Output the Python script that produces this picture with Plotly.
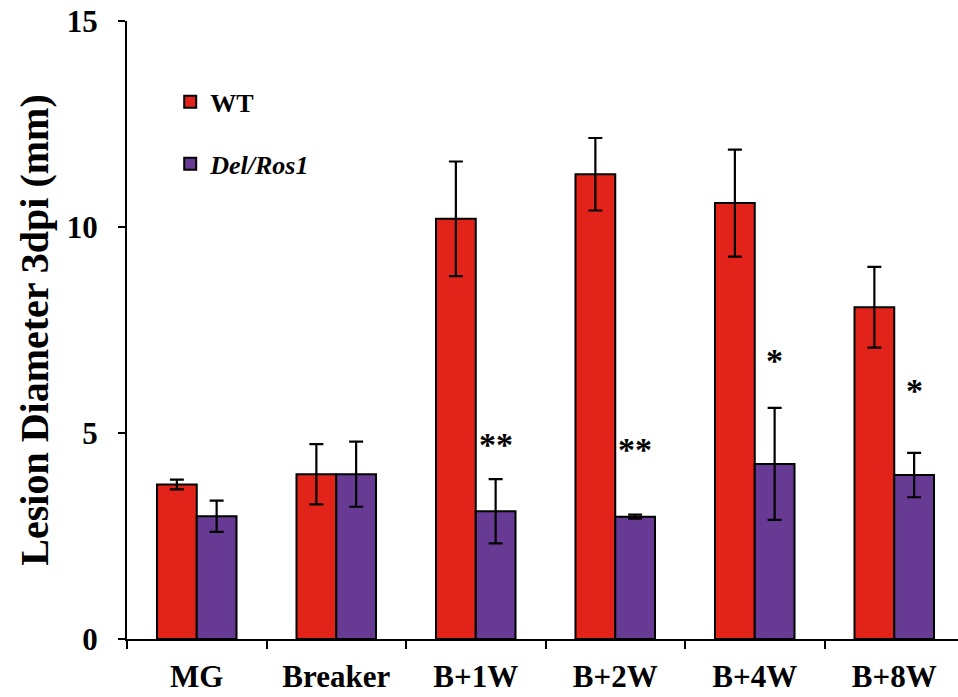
import plotly.graph_objects as go

categories = ["MG", "Breaker", "B+1W", "B+2W", "B+4W", "B+8W"]
wt_values = [3.75, 4.0, 10.2, 11.28, 10.58, 8.05]
wt_errors = [0.12, 0.73, 1.39, 0.88, 1.30, 0.98]
del_values = [2.98, 4.0, 3.1, 2.97, 4.25, 3.98]
del_errors = [0.38, 0.79, 0.78, 0.05, 1.36, 0.54]
sig_labels = ["", "", "**", "**", "*", "*"]
sig_y = [None, None, 4.72, 4.61, 6.75, 6.03]
y_ticks = [0, 5, 10, 15]

SERIF = "Liberation Serif"
RED = "#E2231A"
PURPLE = "#673A93"

fig = go.Figure()
fig.add_trace(go.Bar(
    x=categories, y=wt_values, name="WT", legendgroup="wt",
    marker=dict(color=RED, line=dict(color="black", width=2)),
    error_y=dict(type="data", array=wt_errors, color="black", thickness=2.2, width=7),
))
fig.add_trace(go.Bar(
    x=categories, y=del_values, name="<i>Del/Ros1</i>", legendgroup="del",
    marker=dict(color=PURPLE, line=dict(color="black", width=2)),
    error_y=dict(type="data", array=del_errors, color="black", thickness=2.2, width=7),
))

for cat, lab, yy in zip(categories, sig_labels, sig_y):
    if lab:
        fig.add_annotation(
            x=cat, y=yy, text=lab, showarrow=False, xshift=20,
            xanchor="center", yanchor="middle",
            font=dict(family=SERIF, size=34, color="black", weight="bold"),
        )

fig.update_layout(
    width=958, height=697,
    margin=dict(l=127, r=0, t=21, b=58),
    paper_bgcolor="white", plot_bgcolor="white",
    barmode="group", bargap=0.43, bargroupgap=0,
    showlegend=True,
    legend=dict(
        x=0.052, y=0.907, xanchor="left", yanchor="top",
        traceorder="grouped", tracegroupgap=25,
        font=dict(family=SERIF, size=26, color="black", weight="bold"),
        bgcolor="rgba(0,0,0,0)",
    ),
    font=dict(family=SERIF, color="black"),
)
fig.update_xaxes(
    type="category", range=[-0.5, 5.457],
    showline=True, linecolor="black", linewidth=2,
    ticks="outside", tickson="boundaries", ticklen=8, tickwidth=2, tickcolor="black",
    ticklabelstandoff=9,
    tickfont=dict(family=SERIF, size=31, color="black", weight="bold"),
    showgrid=False, zeroline=False,
)
fig.update_yaxes(
    range=[0, 15], tickvals=y_ticks, ticktext=[str(v) for v in y_ticks],
    showline=True, linecolor="black", linewidth=2,
    ticks="outside", ticklen=7, tickwidth=2, tickcolor="black",
    ticklabelstandoff=14,
    tickfont=dict(family=SERIF, size=31, color="black", weight="bold"),
    showgrid=False, zeroline=False,
    title=dict(text="Lesion Diameter 3dpi (mm)", standoff=6,
               font=dict(family=SERIF, size=40, color="black", weight="bold")),
)

fig.write_html("out.html")
